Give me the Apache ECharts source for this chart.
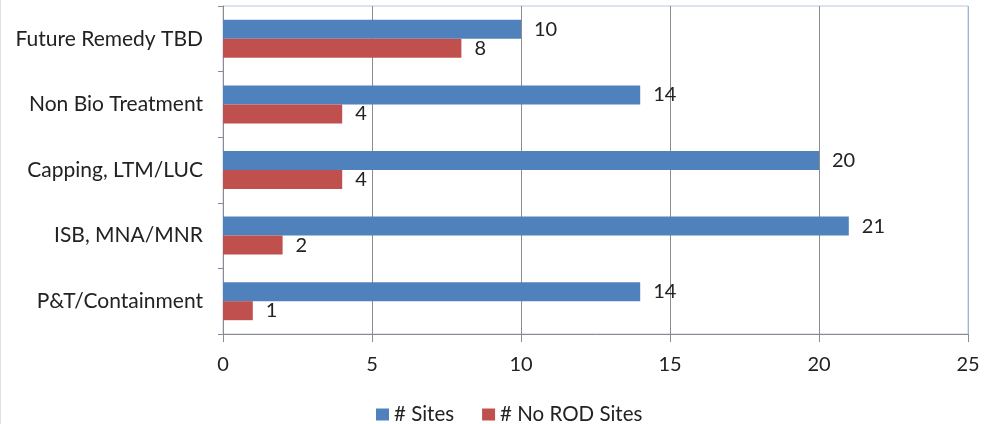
<!DOCTYPE html>
<html>
<head>
<meta charset="utf-8">
<script src="https://cdn.jsdelivr.net/npm/echarts@6/dist/echarts.min.js"></script>
<style>
html,body{margin:0;padding:0;background:#fff;}
#chart{width:996px;height:424px;box-sizing:border-box;border-left:1px solid #e0e0e0;}
</style>
</head>
<body>
<div id="chart"></div>
<script>
const categories = ['P&T/Containment', 'ISB, MNA/MNR', 'Capping, LTM/LUC', 'Non Bio Treatment', 'Future Remedy TBD'];
const sites = [14, 21, 20, 14, 10];
const noRodSites = [1, 2, 4, 4, 8];
const xTicks = { min: 0, max: 25, interval: 5 };

const FONT = 'Lato';
const FS = 20;
const chart = echarts.init(document.getElementById('chart'));
chart.setOption({
  animation: false,
  textStyle: { fontFamily: FONT },
  grid: {
    left: 222, right: 28, top: 6, bottom: 90,
    show: true, borderColor: '#b7c8e0', borderWidth: 1,
    containLabel: false
  },
  legend: {
    top: 404,
    left: 375,
    padding: 0,
    itemWidth: 13, itemHeight: 12, itemGap: 28,
    icon: 'rect',
    data: ['# Sites', '# No ROD Sites'],
    textStyle: { fontFamily: FONT, fontSize: 20.5, color: '#222' }
  },
  xAxis: {
    type: 'value',
    min: xTicks.min, max: xTicks.max, interval: xTicks.interval,
    axisLine: { show: true, lineStyle: { color: '#8c8c8c', width: 1 } },
    axisTick: { show: true, length: 8, lineStyle: { color: '#8c8c8c' } },
    axisLabel: { margin: 21, fontFamily: FONT, fontSize: FS, color: '#222' },
    splitLine: { show: true, lineStyle: { color: ['#8c8c8c','#8c8c8c','#8c8c8c','#8c8c8c','#8c8c8c','#9fb3d3'], width: 1 } }
  },
  yAxis: {
    type: 'category',
    data: categories,
    axisLine: { show: true, lineStyle: { color: '#8c8c8c', width: 1 } },
    axisTick: { show: true, length: 5, lineStyle: { color: '#8c8c8c' } },
    axisLabel: { margin: 20, fontFamily: FONT, fontSize: 21, color: '#222' },
    splitLine: { show: false }
  },
  series: [
    {
      name: '# Sites', type: 'bar', data: sites,
      barWidth: 19, barGap: '0%',
      itemStyle: { color: '#4f81bd' },
      label: { show: true, position: 'right', distance: 13, fontFamily: FONT, fontSize: FS, color: '#222' }
    },
    {
      name: '# No ROD Sites', type: 'bar', data: noRodSites,
      barWidth: 19, barGap: '0%',
      itemStyle: { color: '#c0504d' },
      label: { show: true, position: 'right', distance: 13, fontFamily: FONT, fontSize: FS, color: '#222' }
    }
  ]
});
</script>
</body>
</html>
